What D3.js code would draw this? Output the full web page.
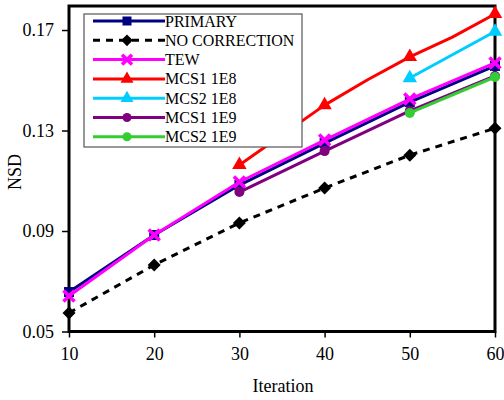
<!DOCTYPE html>
<html><head><meta charset="utf-8">
<script src="https://cdn.jsdelivr.net/npm/d3@7"></script>
<style>body{margin:0;background:#fff}svg{display:block}text{font-family:"Liberation Serif","Times New Roman",serif;fill:#000}</style>
</head><body><svg id="c" width="504" height="400"></svg>
<script>
const xTicks = [10, 20, 30, 40, 50, 60];
const yTicks = [0.05, 0.09, 0.13, 0.17];
const yTickLabels = ["0.05", "0.09", "0.13", "0.17"];

const primaryX = [10, 20, 30, 40, 50, 60];
const primary = [0.0657, 0.0884, 0.1083, 0.1250, 0.1413, 0.1557];
const noCorrX = [10, 20, 30, 40, 50, 60];
const noCorrection = [0.0574, 0.0765, 0.0932, 0.1071, 0.1202, 0.1309];
const tewX = [10, 20, 30, 40, 50, 60];
const tew = [0.0641, 0.0884, 0.1095, 0.1262, 0.1425, 0.1569];
const mcs1e8X = [30, 40, 45, 50, 55, 60];
const mcs1e8 = [0.1163, 0.1401, 0.1501, 0.1593, 0.1672, 0.1764];
const mcs2e8X = [50, 60];
const mcs2e8 = [0.1509, 0.1694];
const mcs1e9X = [30, 40, 50, 60];
const mcs1e9 = [0.1055, 0.1218, 0.1378, 0.1517];
const mcs2e9X = [50, 60];
const mcs2e9 = [0.1370, 0.1513];

const seriesNames = ["PRIMARY", "NO CORRECTION", "TEW", "MCS1 1E8", "MCS2 1E8", "MCS1 1E9", "MCS2 1E9"];
const series = [
  {name: seriesNames[0], xs: primaryX, ys: primary, color: "#000080", marker: "square", dash: null},
  {name: seriesNames[1], xs: noCorrX, ys: noCorrection, color: "#000000", marker: "diamond", dash: "7,6"},
  {name: seriesNames[2], xs: tewX, ys: tew, color: "#FF00FF", marker: "x", dash: null},
  {name: seriesNames[3], xs: mcs1e8X, ys: mcs1e8, color: "#FF0000", marker: "triangle", dash: null},
  {name: seriesNames[4], xs: mcs2e8X, ys: mcs2e8, color: "#00CCFF", marker: "triangle", dash: null},
  {name: seriesNames[5], xs: mcs1e9X, ys: mcs1e9, color: "#800080", marker: "circle", dash: null},
  {name: seriesNames[6], xs: mcs2e9X, ys: mcs2e9, color: "#33CC33", marker: "circle", dash: null}
];

const svg = d3.select("#c");
const L = 69, R = 495, T = 6, B = 331.5;
const x = d3.scaleLinear().domain([10, 60]).range([L, R]);
const y = d3.scaleLinear().domain([0.05, 0.18]).range([B, 4.9]);

// axes
const yAxis = d3.axisLeft(y).tickValues(yTicks).tickFormat((d, i) => yTickLabels[i]).tickSize(7).tickPadding(8);
const gy = svg.append("g").attr("transform", `translate(${L},0)`).call(yAxis);
gy.select(".domain").remove();
gy.selectAll(".tick line").attr("stroke", "#000").attr("stroke-width", 1.5);
gy.selectAll(".tick text").attr("font-size", 18).style("font-family", '"Liberation Serif",serif');

const xAxis = d3.axisBottom(x).tickValues(xTicks).tickFormat(d3.format("d")).tickSize(6).tickPadding(10);
const gx = svg.append("g").attr("transform", `translate(0,${B})`).call(xAxis);
gx.select(".domain").remove();
gx.selectAll(".tick line").attr("stroke", "#000").attr("stroke-width", 1.5);
gx.selectAll(".tick text").attr("font-size", 18).style("font-family", '"Liberation Serif",serif');

// frame
svg.append("rect").attr("x", L).attr("y", T).attr("width", R - L).attr("height", B - T)
  .attr("fill", "none").attr("stroke", "#000").attr("stroke-width", 3);

// titles
svg.append("text").attr("x", 283).attr("y", 392).attr("text-anchor", "middle").attr("font-size", 18).text("Iteration");
svg.append("text").attr("transform", "translate(21,172) rotate(-90)").attr("text-anchor", "middle").attr("font-size", 18).text("NSD");

function drawMarker(g, type, cx, cy, color, s) {
  s = s || 1;
  if (type === "square") {
    g.append("rect").attr("x", cx - 5 * s).attr("y", cy - 5 * s).attr("width", 10 * s).attr("height", 10 * s).attr("fill", color);
  } else if (type === "diamond") {
    const r = 6.5 * s;
    g.append("path").attr("d", `M${cx},${cy - r}L${cx + r},${cy}L${cx},${cy + r}L${cx - r},${cy}Z`).attr("fill", color);
  } else if (type === "x") {
    const r = 5.5 * s;
    g.append("path").attr("d", `M${cx - r},${cy - r}L${cx + r},${cy + r}M${cx - r},${cy + r}L${cx + r},${cy - r}`)
      .attr("stroke", color).attr("stroke-width", 3.5).attr("fill", "none");
  } else if (type === "triangle") {
    g.append("path").attr("d", d3.symbol(d3.symbolTriangle, 90 * s * s)()).attr("transform", `translate(${cx},${cy})`).attr("fill", color);
  } else if (type === "circle") {
    g.append("circle").attr("cx", cx).attr("cy", cy).attr("r", 5 * s).attr("fill", color);
  }
}

const line = d3.line().x(d => x(d[0])).y(d => y(d[1]));
series.forEach(s => {
  const pts = s.xs.map((v, i) => [v, s.ys[i]]);
  const g = svg.append("g");
  g.append("path").attr("d", line(pts)).attr("fill", "none").attr("stroke", s.color)
    .attr("stroke-width", 3).attr("stroke-dasharray", s.dash).attr("stroke-linejoin", "round");
  pts.filter(p => p[0] % 10 === 0).forEach(p => drawMarker(g, s.marker, x(p[0]), y(p[1]), s.color, 1));
});

// legend
const lg = svg.append("g");
lg.append("rect").attr("x", 84).attr("y", 14).attr("width", 218).attr("height", 133)
  .attr("fill", "#fff").attr("stroke", "#555").attr("stroke-width", 1.2);
series.forEach((s, i) => {
  const yy = 21 + i * 19.3;
  lg.append("line").attr("x1", 93).attr("x2", 165).attr("y1", yy).attr("y2", yy)
    .attr("stroke", s.color).attr("stroke-width", 3).attr("stroke-dasharray", s.dash);
  drawMarker(lg, s.marker, 127, yy, s.color, 0.9);
  lg.append("text").attr("x", 165).attr("y", yy + 5.5).attr("font-size", 16).text(s.name);
});
</script></body></html>
